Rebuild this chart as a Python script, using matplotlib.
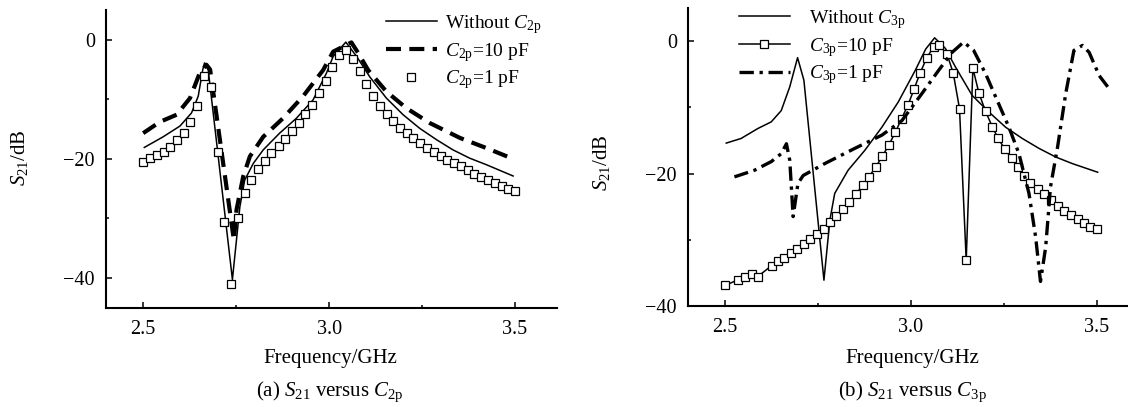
import matplotlib
matplotlib.use('Agg')
import matplotlib.pyplot as plt

plt.rcParams['font.family'] = ['Liberation Serif', 'DejaVu Serif']
plt.rcParams['mathtext.fontset'] = 'custom'
plt.rcParams['mathtext.rm'] = 'Liberation Serif'
plt.rcParams['mathtext.it'] = 'Liberation Serif:italic'
plt.rcParams['axes.unicode_minus'] = True

# ---------------- data: panel (a) ----------------
a_sq_x = [2.500, 2.518, 2.536, 2.555, 2.573, 2.591, 2.609, 2.627, 2.645, 2.664,
          2.682, 2.700, 2.718, 2.736, 2.755, 2.773, 2.791, 2.809, 2.827, 2.845,
          2.864, 2.882, 2.900, 2.918, 2.936, 2.955, 2.973, 2.991, 3.009, 3.027,
          3.045, 3.064, 3.082, 3.100, 3.118, 3.136, 3.155, 3.173, 3.191, 3.209,
          3.227, 3.245, 3.264, 3.282, 3.300, 3.318, 3.336, 3.355, 3.373, 3.391,
          3.409, 3.427, 3.445, 3.464, 3.482, 3.500]
a_sq_y = [-20.5, -19.9, -19.4, -18.8, -18.1, -16.9, -15.7, -13.9, -11.1, -6.1,
          -7.9, -18.8, -30.6, -41.0, -29.9, -25.8, -23.6, -21.8, -20.3, -19.1,
          -17.8, -16.6, -15.3, -14.0, -12.5, -10.9, -9.0, -6.9, -4.5, -2.5,
          -1.8, -3.3, -5.3, -7.5, -9.4, -11.1, -12.5, -13.7, -14.8, -15.7,
          -16.5, -17.4, -18.2, -18.9, -19.5, -20.2, -20.7, -21.3, -21.9, -22.5,
          -23.0, -23.5, -24.0, -24.5, -25.0, -25.5]

a_sol_x = [2.503, 2.554, 2.599, 2.630, 2.648, 2.660, 2.665, 2.675, 2.740, 2.760,
           2.773, 2.796, 2.823, 2.867, 2.912, 2.957, 2.993, 3.011, 3.045, 3.074,
           3.109, 3.154, 3.199, 3.244, 3.289, 3.333, 3.378, 3.423, 3.495]
a_sol_y = [-18.1, -16.3, -14.5, -12.3, -9.5, -5.1, -3.9, -5.1, -40.3, -28.1,
           -23.6, -20.8, -18.5, -15.7, -13.2, -10.1, -5.6, -2.8, -0.4, -2.8,
           -6.2, -9.8, -12.6, -14.9, -16.8, -18.5, -19.9, -21.0, -22.9]

a_dash_x = [2.500, 2.545, 2.590, 2.626, 2.652, 2.670, 2.680, 2.744, 2.751, 2.769,
            2.787, 2.823, 2.876, 2.930, 2.984, 3.011, 3.060, 3.078, 3.105, 3.154,
            3.208, 3.271, 3.352, 3.423, 3.490]
a_dash_y = [-15.7, -13.8, -12.6, -9.8, -5.6, -4.2, -5.0, -33.7, -28.6, -23.0,
            -19.6, -16.3, -13.2, -9.5, -5.1, -2.0, -0.45, -2.2, -5.1, -8.7,
            -11.5, -14.0, -16.5, -18.2, -19.9]

# ---------------- data: panel (b) ----------------
b_sol_x = [2.503, 2.543, 2.588, 2.624, 2.651, 2.674, 2.695, 2.712, 2.766, 2.782,
           2.795, 2.831, 2.876, 2.922, 2.966, 3.012, 3.040, 3.064, 3.093, 3.120,
           3.165, 3.210, 3.255, 3.300, 3.345, 3.390, 3.435, 3.503]
b_sol_y = [-15.4, -14.7, -13.2, -12.2, -10.5, -6.9, -2.5, -5.9, -36.1, -27.0,
           -23.0, -19.5, -16.5, -13.0, -9.2, -4.4, -1.2, 0.5, -1.1, -3.9,
           -8.2, -10.7, -13.0, -14.7, -16.2, -17.5, -18.5, -19.8]

b_sq_x = [2.500, 2.534, 2.554, 2.571, 2.588, 2.625, 2.642, 2.659, 2.676, 2.694,
          2.711, 2.728, 2.746, 2.765, 2.781, 2.799, 2.817, 2.834, 2.852, 2.870,
          2.887, 2.905, 2.923, 2.940, 2.958, 2.975, 2.992, 3.009, 3.025, 3.043,
          3.061, 3.077, 3.097, 3.114, 3.131, 3.149, 3.167, 3.183, 3.201, 3.219,
          3.235, 3.253, 3.271, 3.289, 3.304, 3.322, 3.341, 3.358, 3.376, 3.395,
          3.412, 3.431, 3.449, 3.466, 3.482, 3.500]
b_sq_y = [-36.9, -36.05, -35.65, -35.15, -35.55, -33.9, -33.25, -32.7, -32.05, -31.4,
          -30.65, -29.9, -29.15, -28.3, -27.3, -26.4, -25.4, -24.3, -23.1, -21.8,
          -20.5, -19.05, -17.4, -15.75, -13.8, -11.7, -9.7, -7.2, -4.8, -2.5,
          -0.9, -0.65, -1.9, -4.8, -10.2, -33.1, -4.1, -7.8, -10.6, -12.9,
          -14.7, -16.3, -17.7, -19.0, -20.3, -21.4, -22.4, -23.1, -24.0, -24.9,
          -25.6, -26.3, -26.9, -27.5, -28.0, -28.4]

b_dd_x = [2.525, 2.579, 2.624, 2.651, 2.665, 2.674, 2.683, 2.696, 2.710, 2.768,
          2.849, 2.922, 2.976, 3.030, 3.075, 3.111, 3.142, 3.169, 3.201, 3.232,
          3.264, 3.291, 3.318, 3.336, 3.349, 3.363, 3.376, 3.395, 3.417, 3.439,
          3.462, 3.480, 3.507, 3.530]
b_dd_y = [-20.5, -19.5, -18.2, -17.0, -15.5, -18.0, -26.5, -21.5, -20.3, -18.5,
          -16.2, -14.2, -12.0, -7.9, -4.4, -1.7, -0.15, -1.4, -4.9, -8.9,
          -13.0, -17.0, -23.0, -29.6, -36.3, -31.1, -22.0, -16.0, -7.9, -1.4,
          -0.65, -1.7, -5.2, -6.9]

x_major = [2.5, 3.0, 3.5]
x_major_labels = ['2.5', '3.0', '3.5']
x_minor = [2.75, 3.25]
y_major = [-40, -20, 0]
y_minor = [-30, -10]

labels_a = ['Without $C_{\\rm 2p}$', '$C_{\\rm 2p}$=10 pF', '$C_{\\rm 2p}$=1 pF']
labels_b = ['Without $C_{\\rm 3p}$', '$C_{\\rm 3p}$=10 pF', '$C_{\\rm 3p}$=1 pF']
xlabel = 'Frequency/GHz'
ylabel = '$S_{21}$/dB'
caption_a = '(a) $S_{21}$ versus $C_{\\rm 2p}$'
caption_b = '(b) $S_{21}$ versus $C_{\\rm 3p}$'

# ---------------- figure ----------------
W, H = 1128, 407
fig = plt.figure(figsize=(W / 100, H / 100), dpi=100)


def fx(px):
    return px / W


def fy(py):
    return 1 - py / H


axA = fig.add_axes([fx(106), fy(307.5), fx(557) - fx(106), fy(10) - fy(307.5)])
axB = fig.add_axes([fx(688), fy(306), fx(1130) - fx(688), fy(8) - fy(306)])


def style(ax, xlim, ylim):
    for s in ['top', 'right']:
        ax.spines[s].set_visible(False)
    for s in ['left', 'bottom']:
        ax.spines[s].set_linewidth(1.5)
    ax.set_xlim(*xlim)
    ax.set_ylim(*ylim)
    ax.set_xticks(x_major)
    ax.set_xticklabels(x_major_labels)
    ax.set_xticks(x_minor, minor=True)
    ax.set_yticks(y_major)
    ax.set_yticks(y_minor, minor=True)
    ax.tick_params(which='both', direction='in', width=1.1, labelsize=14.5)
    ax.tick_params(which='major', length=4.5)
    ax.tick_params(which='minor', length=2.5)
    ax.tick_params(axis='x', which='both', pad=9)
    ax.tick_params(axis='y', which='both', pad=8)


style(axA, (2.4, 3.613), (-45, 5))
style(axB, (2.4, 3.59), (-40, 5))

# panel (a)
la1, = axA.plot(a_sol_x, a_sol_y, color='black', lw=1.1)
la2, = axA.plot(a_dash_x, a_dash_y, color='black', lw=3.0, dashes=(3.6, 2.0))
la3, = axA.plot(a_sq_x, a_sq_y, ls='none', marker='s', ms=5.2, mfc='white',
                mec='black', mew=0.9)

# panel (b)
lb1, = axB.plot(b_sol_x, b_sol_y, color='black', lw=1.1)
lb2, = axB.plot(b_sq_x, b_sq_y, color='black', lw=1.1, marker='s', ms=5.2,
                mfc='white', mec='black', mew=0.9)
lb3, = axB.plot(b_dd_x, b_dd_y, color='black', lw=2.4, dashes=(4.3, 1.7, 1.0, 1.7))

axA.legend([la1, la2, la3], labels_a, loc='upper left',
           bbox_to_anchor=(fx(386), fy(13)), bbox_transform=fig.transFigure,
           frameon=False, fontsize=14, handlelength=2.6, handletextpad=0.45,
           labelspacing=0.25, borderpad=0, borderaxespad=0, numpoints=1)
axB.legend([lb1, lb2, lb3], labels_b, loc='upper left',
           bbox_to_anchor=(fx(739), fy(8)), bbox_transform=fig.transFigure,
           frameon=False, fontsize=14, handlelength=2.6, handletextpad=1.0,
           labelspacing=0.25, borderpad=0, borderaxespad=0, numpoints=1)

fig.text(fx(20), fy(158), ylabel, rotation=90, ha='center', va='center', fontsize=15)
fig.text(fx(601), fy(163), ylabel, rotation=90, ha='center', va='center', fontsize=15)
fig.text(fx(330), fy(359), xlabel, ha='center', va='center', fontsize=15)
fig.text(fx(912), fy(359), xlabel, ha='center', va='center', fontsize=15)
fig.text(fx(330), fy(392), caption_a, ha='center', va='center', fontsize=15)
fig.text(fx(912), fy(392), caption_b, ha='center', va='center', fontsize=15)

fig.savefig('out.png', dpi=100)
